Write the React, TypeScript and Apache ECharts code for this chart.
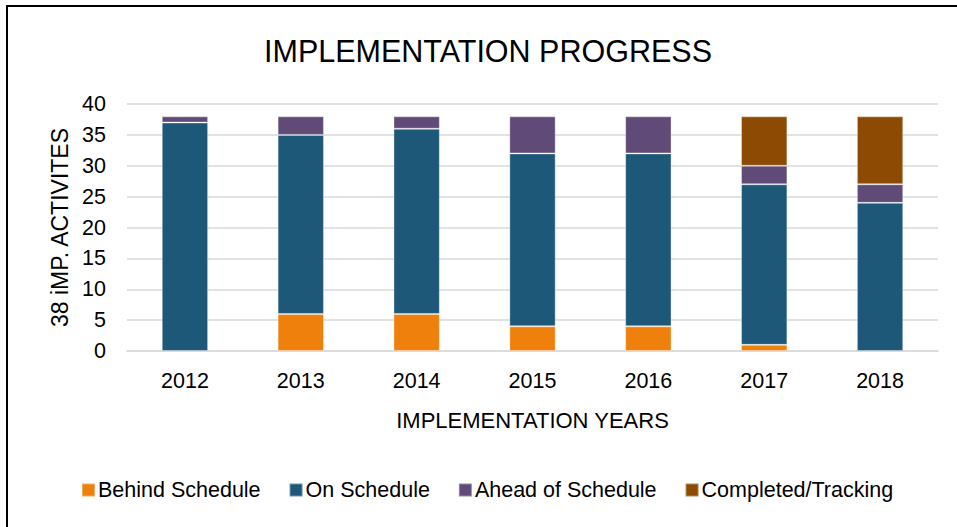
import React, { useEffect, useRef } from "react";
import * as echarts from "echarts";

const years = ["2012", "2013", "2014", "2015", "2016", "2017", "2018"];
const behindSchedule = [0, 6, 6, 4, 4, 1, 0];
const onSchedule = [37, 29, 30, 28, 28, 26, 24];
const aheadOfSchedule = [1, 3, 2, 6, 6, 3, 3];
const completedTracking = [0, 0, 0, 0, 0, 8, 11];
const seriesNames = ["Behind Schedule", "On Schedule", "Ahead of Schedule", "Completed/Tracking"];
const seriesColors = ["#EF800C", "#1E5879", "#604A78", "#8C4A02"];

const FONT = "'Liberation Sans', Arial, sans-serif";

export default function App() {
  const ref = useRef<HTMLDivElement>(null);
  useEffect(() => {
    if (!ref.current) return;
    const chart = echarts.init(ref.current, undefined, { renderer: "svg" });
    const values = [behindSchedule, onSchedule, aheadOfSchedule, completedTracking];
    chart.setOption({
      animation: false,
      backgroundColor: "#ffffff",
      textStyle: { fontFamily: FONT, color: "#000" },
      title: {
        text: "IMPLEMENTATION PROGRESS",
        left: 483,
        textAlign: "center",
        top: 30,
        textStyle: { fontFamily: FONT, fontSize: 30.5, fontWeight: "normal", color: "#000" },
      },
      legend: {
        bottom: 21,
        left: 76,
        itemWidth: 13,
        itemHeight: 13,
        itemGap: 28,
        icon: "rect",
        textStyle: { fontFamily: FONT, fontSize: 21.5, color: "#000", padding: [0, 0, 0, -2] },
        data: seriesNames,
      },
      grid: { left: 127, right: 19, top: 104, bottom: 176, containLabel: false },
      xAxis: {
        type: "category",
        data: years,
        name: "IMPLEMENTATION YEARS",
        nameLocation: "middle",
        nameGap: 58,
        nameTextStyle: { fontFamily: FONT, fontSize: 22, color: "#000", verticalAlign: "top" },
        axisLine: { show: true, lineStyle: { color: "#D9D9D9", width: 1.5 } },
        axisTick: { show: false },
        axisLabel: { fontFamily: FONT, fontSize: 21.5, color: "#000", margin: 19 },
      },
      yAxis: {
        type: "value",
        min: 0,
        max: 40,
        interval: 5,
        name: "38 iMP. ACTIVITES",
        nameLocation: "middle",
        nameGap: 55,
        nameTextStyle: { fontFamily: FONT, fontSize: 23, color: "#000" },
        axisLine: { show: false },
        axisTick: { show: false },
        axisLabel: { fontFamily: FONT, fontSize: 21.5, color: "#000", margin: 21 },
        splitLine: { lineStyle: { color: "#D9D9D9", width: 1.5 } },
      },
      series: seriesNames.map((name, i) => ({
        name,
        type: "bar",
        stack: "total",
        barWidth: "40%",
        itemStyle: {
          color: seriesColors[i],
          borderColor: "rgba(255,255,255,0.35)",
          borderWidth: 1,
        },
        data: values[i].map((v) => (v === 0 ? null : v)),
      })),
      graphic: [
        {
          type: "rect",
          shape: { x: 7, y: 6, width: 1000, height: 600 },
          style: { fill: "none", stroke: "#000", lineWidth: 2 },
          silent: true,
          z: 100,
        },
      ],
    });
    return () => chart.dispose();
  }, []);
  return (
    <div
      ref={ref}
      style={{ position: "fixed", left: 0, top: 0, width: 957, height: 527 }}
    />
  );
}
